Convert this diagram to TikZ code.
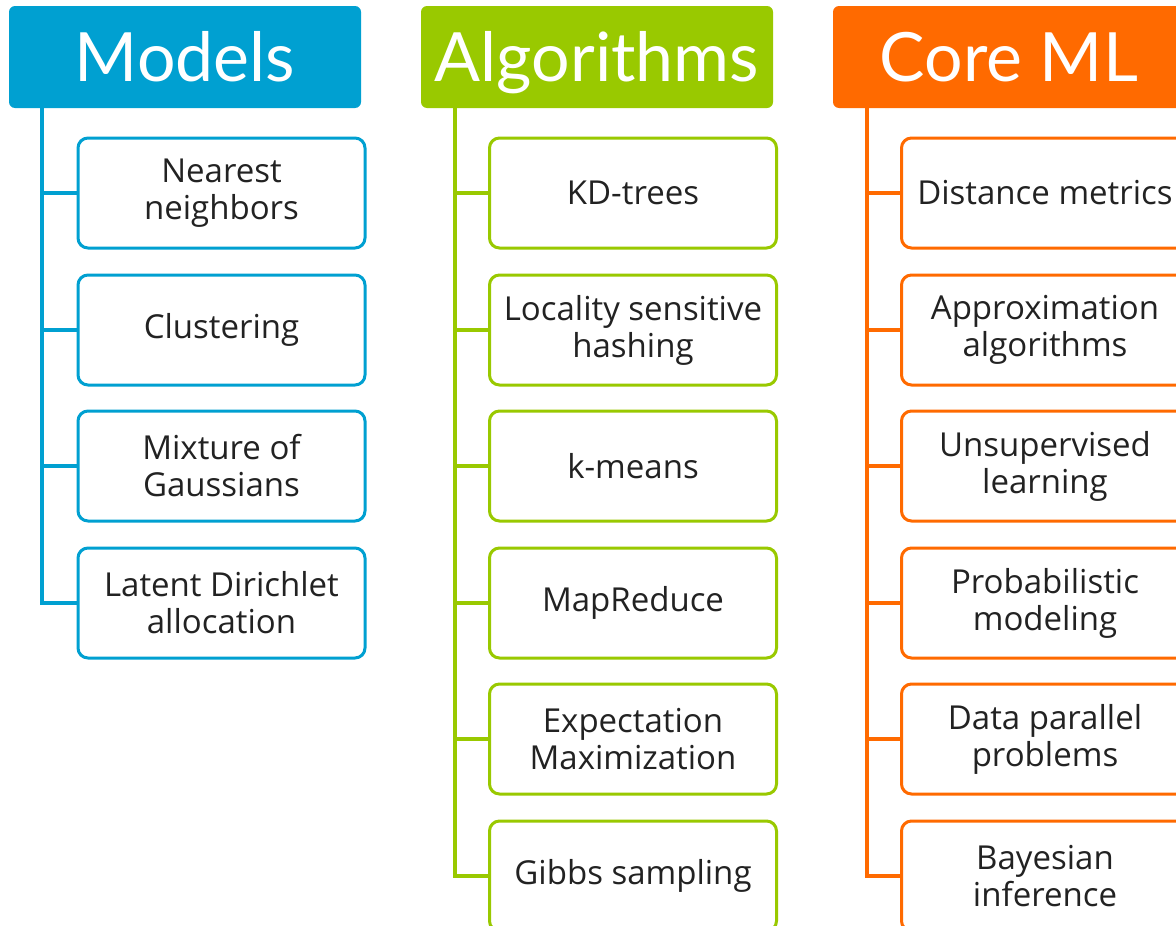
\documentclass[tikz,border=0pt]{standalone}
\usepackage{fontspec}
\setmainfont{Open Sans}
\newfontfamily\hdrfont{Lato}
\definecolor{cblue}{HTML}{00A0D1}
\definecolor{cgreen}{HTML}{99C900}
\definecolor{corange}{HTML}{FF6A00}
\definecolor{ctext}{HTML}{222222}
\tikzset{
  hdr/.style={rounded corners=6pt, minimum width=352pt, minimum height=102pt, inner sep=0pt,
    text height=48pt, text depth=0pt,
    text=white, font=\hdrfont\fontsize{68}{74}\selectfont},
  itembox/.style={rounded corners=10pt, line width=3pt, fill=white, minimum width=287pt,
    minimum height=110pt, inner sep=0pt, align=center, text=ctext,
    font=\fontsize{33}{37}\selectfont},
  trunk/.style={line width=4pt}
}
\begin{document}
\begin{tikzpicture}[x=1pt,y=-1pt]
\useasboundingbox (0,0) rectangle (1176,926);
\fill[white] (0,0) rectangle (1176,926);
\clip (0,0) rectangle (1176,926);
% Models
\node[hdr, fill=cblue] (mh) at (185,57) {Models};
\coordinate (mt) at (42,106);
\node[itembox, draw=cblue] (m1) at (221.5,193) {Nearest\\neighbors};
\node[itembox, draw=cblue] (m2) at (221.5,330) {Clustering};
\node[itembox, draw=cblue] (m3) at (221.5,466) {Mixture of\\Gaussians};
\node[itembox, draw=cblue] (m4) at (221.5,603) {Latent Dirichlet\\allocation};
\foreach \i in {1,...,4} \draw[trunk, cblue] (mt) |- (m\i.west);
% Algorithms
\node[hdr, fill=cgreen] (ah) at (597,57) {Algorithms};
\coordinate (at) at (455,106);
\node[itembox, draw=cgreen] (a1) at (633,193) {KD-trees};
\node[itembox, draw=cgreen] (a2) at (633,330) {Locality sensitive\\hashing};
\node[itembox, draw=cgreen] (a3) at (633,466) {k-means};
\node[itembox, draw=cgreen] (a4) at (633,603) {MapReduce};
\node[itembox, draw=cgreen] (a5) at (633,739) {Expectation\\Maximization};
\node[itembox, draw=cgreen] (a6) at (633,876) {Gibbs sampling};
\foreach \i in {1,...,6} \draw[trunk, cgreen] (at) |- (a\i.west);
% Core ML
\node[hdr, fill=corange] (ch) at (1009,57) {Core ML};
\coordinate (ct) at (867,106);
\node[itembox, draw=corange] (c1) at (1045,193) {Distance metrics};
\node[itembox, draw=corange] (c2) at (1045,330) {Approximation\\algorithms};
\node[itembox, draw=corange] (c3) at (1045,466) {Unsupervised\\learning};
\node[itembox, draw=corange] (c4) at (1045,603) {Probabilistic\\modeling};
\node[itembox, draw=corange] (c5) at (1045,739) {Data parallel\\problems};
\node[itembox, draw=corange] (c6) at (1045,876) {Bayesian\\inference};
\foreach \i in {1,...,6} \draw[trunk, corange] (ct) |- (c\i.west);
\end{tikzpicture}
\end{document}
